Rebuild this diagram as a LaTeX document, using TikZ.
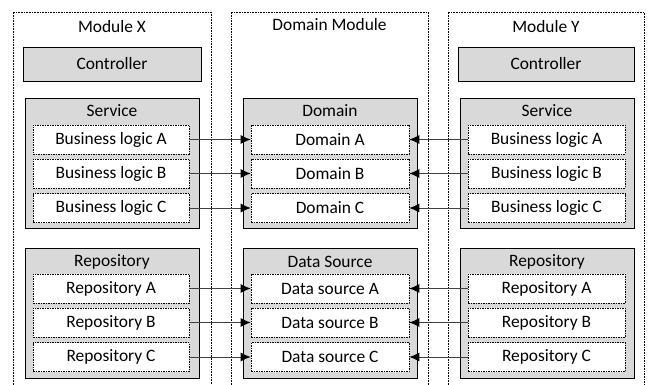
\documentclass[tikz,border=0pt]{standalone}
\usepackage{fontspec}
\setmainfont{Carlito}
\usetikzlibrary{arrows.meta,shadows}
\definecolor{boxgray}{RGB}{217,217,217}
\definecolor{linegray}{RGB}{64,64,64}
\tikzset{
  modulebox/.style={draw=black, line width=0.6pt, densely dotted},
  graybox/.style={rectangle, draw=black, line width=0.9pt, fill=boxgray, inner sep=0pt,
     drop shadow={shadow xshift=1.2pt, shadow yshift=-1.2pt, fill=gray!70, opacity=1}},
  itembox/.style={rectangle, draw=black, line width=0.6pt, densely dashed, dash pattern=on 1.5pt off 1pt, fill=white,
     minimum height=29pt, inner sep=0pt},
  ttl/.style={inner sep=0pt, anchor=center},
  conn/.style={draw=linegray, line width=1pt, -{Latex[length=10pt,width=9pt,color=black]}},
}
\begin{document}
\begin{tikzpicture}[x=1pt,y=-1pt, every node/.style={font=\fontsize{17.4}{20}\selectfont}]
\useasboundingbox (0,0) rectangle (648,385);
% modules
\draw[modulebox] (13,385) -- (13,12) -- (211,12) -- (211,385);
\draw[modulebox] (231,385) -- (231,12) -- (428,12) -- (428,385);
\draw[modulebox] (448,385) -- (448,12) -- (644,12) -- (644,385);
\node[ttl] (mx) at (112,27) {Module X};
\node[ttl] (dm) at (329.5,25) {Domain Module};
\node[ttl] (my) at (546,27) {Module Y};
% controllers
\node[graybox, minimum width=178pt, minimum height=34pt] (cx) at (112,64) {Controller};
\node[graybox, minimum width=176pt, minimum height=34pt] (cy) at (546,64) {Controller};
% containers
\node[graybox, minimum width=174pt, minimum height=130pt] (sx) at (112,163) {};
\node[graybox, minimum width=174pt, minimum height=130pt] (rx) at (112,313) {};
\node[graybox, minimum width=174pt, minimum height=130pt] (dd) at (330,163) {};
\node[graybox, minimum width=174pt, minimum height=130pt] (ds) at (330,313) {};
\node[graybox, minimum width=174pt, minimum height=130pt] (sy) at (547,163) {};
\node[graybox, minimum width=174pt, minimum height=130pt] (ry) at (547,313) {};
\node[ttl] (sxt) at (112,110.5) {Service};
\node[ttl] (rxt) at (112,262) {Repository};
\node[ttl] (ddt) at (330,110.5) {Domain};
\node[ttl] (dst) at (330,262) {Data Source};
\node[ttl] (syt) at (547,110.5) {Service};
\node[ttl] (ryt) at (547,262) {Repository};
% items
\foreach \n/\y/\l in {a/139.5/A,b/173.5/B,c/208/C}{
  \node[itembox, minimum width=156pt] (bx\n) at (111,\y) {Business logic \l};
  \node[itembox, minimum width=158pt] (dd\n) at (330,\y) {Domain \l};
  \node[itembox, minimum width=157pt] (by\n) at (546.5,\y) {Business logic \l};
}
\foreach \n/\y/\l in {a/288.5/A,b/322.5/B,c/357/C}{
  \node[itembox, minimum width=156pt] (rx\n) at (111,\y) {Repository \l};
  \node[itembox, minimum width=158pt] (ds\n) at (330,\y) {Data source \l};
  \node[itembox, minimum width=157pt] (ry\n) at (546.5,\y) {Repository \l};
}
% connectors
\foreach \n in {a,b,c}{
  \draw[conn] (bx\n.east) -- (dd\n.west);
  \draw[conn] (by\n.west) -- (dd\n.east);
  \draw[conn] (rx\n.east) -- (ds\n.west);
  \draw[conn] (ry\n.west) -- (ds\n.east);
}
\end{tikzpicture}
\end{document}
